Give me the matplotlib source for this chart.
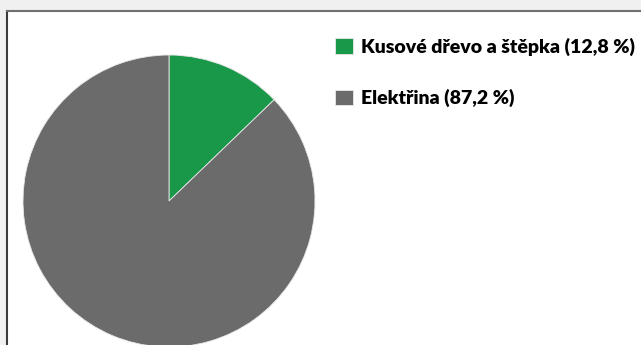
import matplotlib.pyplot as plt
from matplotlib.patches import Rectangle
from matplotlib.lines import Line2D

# podíl zdrojů energie
zdroje = ["Kusové dřevo a štěpka", "Elektřina"]
podily = [12.8, 87.2]
barvy = ["#1a9849", "#6b6b6b"]

W, H = 641, 345
fig = plt.figure(figsize=(W / 100, H / 100), dpi=100, facecolor="#f0f0f0")

# bílá plocha grafu s rámečkem vlevo a nahoře
fig.patches.append(Rectangle((6.5 / W, 0), 1, (H - 10.5) / H, transform=fig.transFigure,
                             facecolor="white", edgecolor="none", zorder=-1))
fig.lines.append(Line2D([6.5 / W, 6.5 / W], [0, (H - 10.5) / H], transform=fig.transFigure,
                        color="#3a3a3a", lw=1.5))
fig.lines.append(Line2D([6.5 / W, 1], [(H - 10.5) / H, (H - 10.5) / H], transform=fig.transFigure,
                        color="#707070", lw=1.5))

cx, cy, r = 169, 201, 146
ax = fig.add_axes([(cx - r) / W, (H - cy - r) / H, 2 * r / W, 2 * r / H], zorder=2)
ax.patch.set_visible(False)
wedges, _ = ax.pie(podily, colors=barvy, startangle=90, counterclock=False,
                   wedgeprops=dict(edgecolor="#e8e8e8", linewidth=0.6))
ax.set_xlim(-1, 1)
ax.set_ylim(-1, 1)
ax.set_aspect("equal")
ax.axis("off")

popisky = [f"{z} ({str(p).replace('.', ',')} %)" for z, p in zip(zdroje, podily)]
leg = fig.legend(wedges, popisky, loc="upper left", bbox_to_anchor=(335 / W, 1 - 38 / H),
                 frameon=False, prop=dict(family="Lato", weight="heavy", size=14),
                 handlelength=0.9, handleheight=0.87, handletextpad=0.45, labelspacing=1.7,
                 borderpad=0, borderaxespad=0)
leg.set_zorder(3)

fig.savefig("out.png", dpi=100, facecolor=fig.get_facecolor())
